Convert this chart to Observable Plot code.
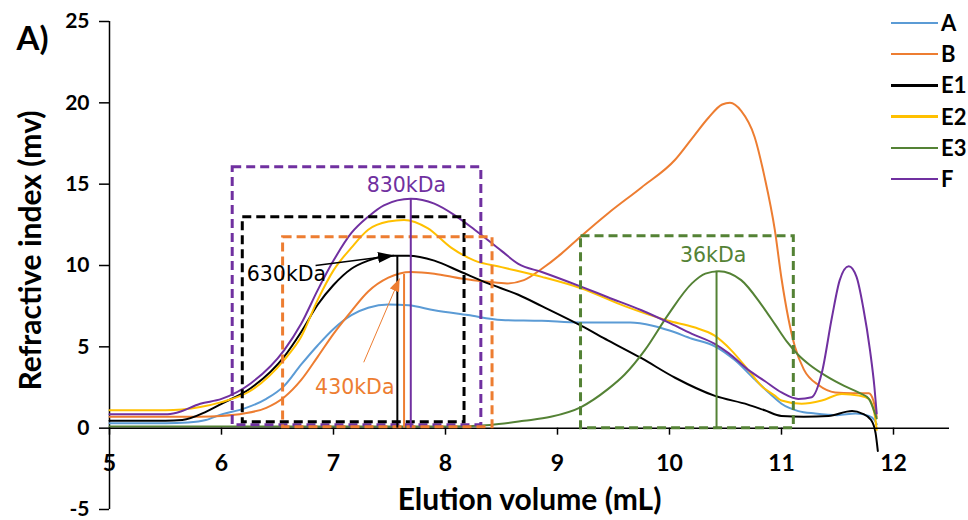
<!DOCTYPE html>
<html><head><meta charset="utf-8">
<script src="https://cdn.jsdelivr.net/npm/d3@7"></script>
<script src="https://cdn.jsdelivr.net/npm/@observablehq/plot@0.6"></script>
<style>
body{margin:0;background:#fff;}
#wrap{position:relative;width:968px;height:520px;font-family:Lato,"DejaVu Sans",sans-serif;}
.row{position:absolute;left:891px;display:flex;align-items:center;height:24px;}
.sw{width:47px;height:2.5px;}
.lab{font-weight:bold;font-size:22px;margin-left:3px;color:#000;line-height:24px;}
</style></head><body><div id="wrap"></div>
<script>
// ---- series ----
const seriesNames = ["A", "B", "E1", "E2", "E3", "F"];
const seriesColors = ["#5B9BD5", "#ED7D31", "#000000", "#FFC000", "#548235", "#7030A0"];

const curveA = [[5,0.3],[5.5,0.3],[5.7,0.35],[5.86,0.5],[6.0,0.85],[6.2,1.2],[6.4,1.8],[6.56,2.6],[6.71,3.9],[6.86,5.1],[7.0,6.1],[7.16,6.95],[7.31,7.4],[7.49,7.6],[7.67,7.55],[7.9,7.25],[8.2,6.95],[8.5,6.65],[8.86,6.6],[9.2,6.5],[9.65,6.5],[9.85,6.3],[10.0,6.0],[10.2,5.5],[10.4,5.05],[10.58,4.2],[10.76,3.0],[10.9,2.1],[11.0,1.5],[11.15,1.05],[11.3,0.9],[11.5,0.8],[11.66,0.9],[11.78,0.75],[11.83,0.5],[11.85,0.25]];
const curveB = [[5,0.7],[5.5,0.7],[5.8,0.7],[6.0,0.75],[6.2,0.9],[6.4,1.25],[6.56,1.9],[6.71,2.95],[6.86,4.4],[7.0,5.8],[7.16,7.2],[7.31,8.4],[7.49,9.25],[7.69,9.6],[7.9,9.5],[8.14,9.2],[8.38,9.0],[8.55,8.9],[8.7,9.1],[8.86,9.8],[9.03,10.7],[9.21,11.8],[9.45,13.2],[9.75,14.8],[10.05,16.5],[10.2,17.8],[10.35,19.1],[10.47,19.9],[10.54,20.0],[10.64,19.5],[10.76,17.9],[10.85,15.4],[10.94,12.2],[11.0,9.2],[11.12,5.0],[11.2,3.6],[11.33,2.65],[11.48,2.2],[11.63,2.15],[11.78,2.15],[11.82,1.7],[11.85,0.7]];
const curveE1 = [[5,0.45],[5.5,0.45],[5.65,0.5],[5.86,1.0],[6.0,1.5],[6.26,2.45],[6.56,4.4],[6.71,5.9],[6.86,7.6],[7.0,8.8],[7.16,9.8],[7.31,10.3],[7.49,10.6],[7.67,10.6],[7.9,10.3],[8.14,9.6],[8.38,8.9],[8.65,8.2],[8.86,7.5],[9.21,6.3],[9.45,5.4],[9.75,4.3],[10.05,3.1],[10.4,2.0],[10.7,1.45],[10.85,1.1],[11.0,0.75],[11.2,0.7],[11.42,0.75],[11.63,1.05],[11.72,0.9],[11.8,0.5],[11.84,-0.3],[11.86,-1.4]];
const curveE2 = [[5,1.1],[5.5,1.1],[5.65,1.15],[5.81,1.3],[6.0,1.6],[6.26,2.3],[6.56,4.2],[6.71,5.6],[6.86,7.9],[7.0,9.7],[7.16,11.1],[7.31,12.2],[7.49,12.7],[7.63,12.8],[7.84,12.3],[8.05,11.1],[8.26,10.3],[8.5,9.9],[8.86,9.3],[9.21,8.6],[9.6,7.5],[9.99,6.6],[10.22,6.2],[10.4,5.7],[10.55,4.8],[10.7,3.6],[10.82,2.6],[10.94,2.0],[11.0,1.7],[11.18,1.5],[11.36,1.7],[11.54,2.1],[11.69,2.0],[11.78,1.8],[11.83,0.9],[11.85,-0.1]];
const curveE3 = [[5,0.1],[6,0.1],[7,0.1],[8,0.1],[8.4,0.2],[8.7,0.45],[8.94,0.7],[9.21,1.3],[9.45,2.4],[9.6,3.3],[9.78,4.8],[9.99,7.0],[10.2,8.9],[10.32,9.5],[10.44,9.65],[10.64,9.1],[10.82,7.6],[10.95,6.3],[11.05,5.3],[11.15,4.5],[11.25,3.9],[11.4,3.2],[11.56,2.6],[11.7,2.15],[11.78,1.8],[11.83,1.0],[11.85,0.6]];
const curveF = [[5,0.85],[5.5,0.85],[5.6,0.95],[5.81,1.5],[6.0,1.8],[6.26,2.75],[6.56,4.8],[6.71,6.4],[6.86,8.5],[7.0,10.3],[7.16,12.0],[7.31,13.0],[7.45,13.7],[7.69,14.1],[7.9,13.8],[8.08,13.1],[8.26,12.2],[8.5,10.9],[8.65,10.1],[8.86,9.6],[9.21,8.7],[9.45,8.05],[9.75,7.25],[9.99,6.5],[10.2,5.8],[10.4,5.2],[10.53,4.6],[10.7,3.6],[10.85,2.9],[11.0,2.2],[11.15,1.8],[11.27,1.9],[11.36,3.4],[11.45,6.8],[11.52,9.1],[11.6,9.95],[11.67,9.3],[11.73,7.4],[11.79,4.8],[11.83,2.5],[11.85,0.9]];

// ---- annotation boxes (dashed) ----
const boxSeries = ["F", "E1", "B", "E3"];
const boxX1 = [6.10, 6.19, 6.55, 9.21];
const boxX2 = [8.32, 8.17, 8.42, 11.11];
const boxY1 = [0.18, 0.37, 0.06, 0.0];
const boxY2 = [16.04, 12.97, 11.74, 11.8];

// ---- peak drop lines ----
const peakSeries = ["E1", "B", "F", "E3"];
const peakX = [7.57, 7.63, 7.69, 10.42];
const peakTop = [10.6, 9.45, 14.1, 9.65];

// ---- arrows ----
const arrowSeries = ["E1", "B"];
const arrowX1 = [6.84, 7.27];
const arrowY1 = [10.0, 4.05];
const arrowX2 = [7.54, 7.59];
const arrowY2 = [10.62, 9.2];

// ---- labels ----
const labelText = ["830kDa", "630kDa", "430kDa", "36kDa"];
const labelSeries = ["F", "E1", "B", "E3"];
const labelX = [7.65, 6.58, 7.19, 10.39];
const labelY = [14.95, 9.45, 2.5, 10.6];

// ---- axes ----
const xTicks = [5, 6, 7, 8, 9, 10, 11, 12];
const yTicks = [-5, 0, 5, 10, 15, 20, 25];
const xTitle = "Elution volume (mL)";
const yTitle = "Refractive index (mv)";
const panelTitle = "A)";

// build tables
const curves = [curveA, curveB, curveE1, curveE2, curveE3, curveF];
const lineRows = curves.flatMap((c, i) => c.map(([x, y]) => ({series: seriesNames[i], x, y})));
const boxes = boxSeries.map((s, i) => ({series: s, x1: boxX1[i], x2: boxX2[i], y1: boxY1[i], y2: boxY2[i]}));
const peaks = peakSeries.map((s, i) => ({series: s, x: peakX[i], top: peakTop[i]}));
const arrows = arrowSeries.map((s, i) => ({series: s, x1: arrowX1[i], y1: arrowY1[i], x2: arrowX2[i], y2: arrowY2[i]}));
const labels = labelText.map((t, i) => ({text: t, series: labelSeries[i], x: labelX[i], y: labelY[i]}));

function headMarker(len, half) {
  return (color) => {
    const m = d3.create("svg:marker")
      .attr("viewBox", `${-len} ${-half} ${len} ${half * 2}`)
      .attr("markerWidth", len).attr("markerHeight", half * 2)
      .attr("markerUnits", "userSpaceOnUse")
      .attr("refX", 0).attr("refY", 0)
      .attr("orient", "auto");
    m.append("path").attr("d", `M${-len},${-half}L0,0L${-len},${half}Z`).attr("fill", color).attr("stroke", "none");
    const node = m.node();
    node.node = () => node;
    return node;
  };
}

const plot = Plot.plot({
  width: 968, height: 520,
  marginTop: 21, marginBottom: 11, marginLeft: 109, marginRight: 19,
  x: {domain: [5, 12.5], axis: null},
  y: {domain: [-5, 25], axis: null},
  color: {domain: seriesNames, range: seriesColors},
  style: {fontFamily: "Lato, sans-serif", fontWeight: "bold", fontSize: "22px", color: "#000", background: "#fff"},
  marks: [
    Plot.ruleX([5], {stroke: "#000", strokeWidth: 1.5}),
    Plot.axisY({ticks: yTicks, tickSize: 10, tickPadding: 10, tickFormat: d => String(d), label: null, strokeWidth: 1.5, fontSize: 21}),
    Plot.line(lineRows, {x: "x", y: "y", z: "series", stroke: "series", strokeWidth: 2, curve: "monotone-x"}),
    Plot.ruleY([0], {stroke: "#000", strokeWidth: 1.5}),
    Plot.ruleX(xTicks, {x: d => d, y1: 0, y2: 0, insetBottom: -7, stroke: "#000", strokeWidth: 1.5}),
    Plot.text(xTicks, {x: d => d, y: 0, dy: 35, text: d => String(d), fontSize: 23}),
    Plot.rect(boxes, {x1: "x1", x2: "x2", y1: "y1", y2: "y2", stroke: "series", fill: "none", strokeWidth: 3, strokeDasharray: "9,5"}),
    Plot.ruleX(peaks, {x: "x", y1: 0, y2: "top", stroke: "series", strokeWidth: 2}),
    Plot.link(arrows.filter(d => d.series === "E1"), {x1: "x1", y1: "y1", x2: "x2", y2: "y2", stroke: "series", strokeWidth: 1.5, markerEnd: headMarker(16, 5.5)}),
    Plot.link(arrows.filter(d => d.series === "B"), {x1: "x1", y1: "y1", x2: "x2", y2: "y2", stroke: "series", strokeWidth: 1, markerEnd: headMarker(13, 5)}),
    Plot.text(labels, {x: "x", y: "y", text: "text", fill: "series", fontWeight: "normal", fontFamily: "DejaVu Sans, sans-serif", fontSize: 20.5}),
    Plot.text([xTitle], {frameAnchor: "bottom", lineAnchor: "middle", textAnchor: "middle", dy: -9, fontSize: 30}),
    Plot.text([yTitle], {frameAnchor: "left", lineAnchor: "middle", textAnchor: "middle", rotate: -90, dx: -78, dy: -15, fontSize: 30}),
    Plot.text([panelTitle], {frameAnchor: "top-left", lineAnchor: "middle", textAnchor: "start", dx: -93, dy: 18, fontSize: 33})
  ]
});

const wrap = document.getElementById("wrap");
wrap.appendChild(plot);
seriesNames.forEach((s, i) => {
  const row = document.createElement("div");
  row.className = "row";
  row.style.top = (23 + i * 31.2 - 12) + "px";
  const sw = document.createElement("span");
  sw.className = "sw";
  sw.style.background = seriesColors[i];
  const lab = document.createElement("span");
  lab.className = "lab";
  lab.textContent = s;
  row.appendChild(sw); row.appendChild(lab);
  wrap.appendChild(row);
});
</script>
</body></html>
